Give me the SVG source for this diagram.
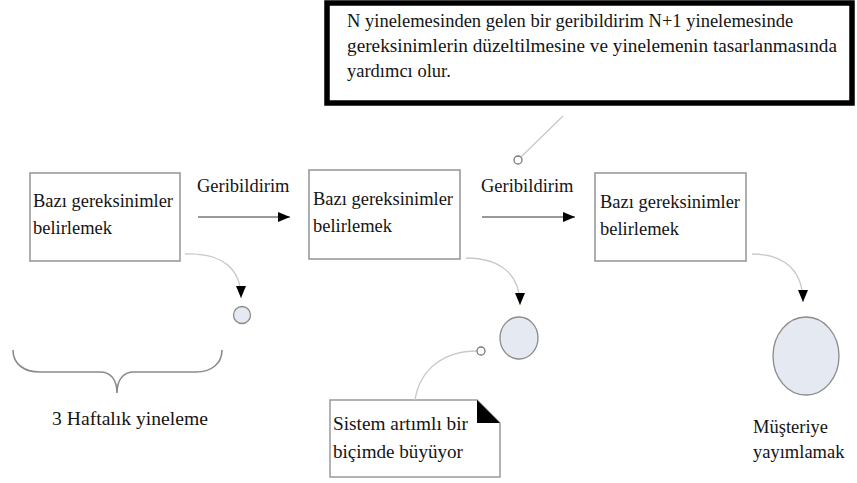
<svg xmlns="http://www.w3.org/2000/svg" width="857" height="483" viewBox="0 0 857 483">
<defs>
<style>
text{font-size:18.5px;fill:#141414}
.box{fill:#fff;stroke:#9a9a9a;stroke-width:1.6}
.circ{fill:#e5e9f1;stroke:#8a8a8a;stroke-width:1.3}
.thin{fill:none;stroke:#c9c9c9;stroke-width:1.3}
.dot{fill:#fff;stroke:#7a7a7a;stroke-width:1.3}
.arr{fill:none;stroke:#777;stroke-width:1.5}
</style>
<marker id="ah" markerUnits="userSpaceOnUse" markerWidth="12" markerHeight="10" refX="12" refY="5" orient="auto">
<path d="M0,0 L12,5 L0,10 Z" fill="#000"/>
</marker>
</defs>
<rect width="857" height="483" fill="#fff"/>

<g id="note-top">
<rect x="327" y="3" width="525" height="100" fill="#fff" stroke="#000" stroke-width="5.5"/>
<text font-family="Liberation Serif, serif" x="347" y="27">N yinelemesinden gelen bir geribildirim N+1 yinelemesinde</text>
<text font-family="Liberation Serif, serif" x="347" y="52" textLength="490" lengthAdjust="spacingAndGlyphs">gereksinimlerin düzeltilmesine ve yinelemenin tasarlanmasında</text>
<text font-family="Liberation Serif, serif" x="347" y="77">yardımcı olur.</text>
</g>

<g id="box1">
<rect class="box" x="30" y="173" width="150" height="88"/>
<text font-family="Liberation Serif, serif" x="33" y="207" textLength="140" lengthAdjust="spacingAndGlyphs">Bazı gereksinimler</text>
<text font-family="Liberation Serif, serif" x="33" y="234" textLength="79" lengthAdjust="spacingAndGlyphs">belirlemek</text>
</g>
<g id="box2">
<rect class="box" x="309" y="170" width="151" height="89"/>
<text font-family="Liberation Serif, serif" x="313" y="205" textLength="140" lengthAdjust="spacingAndGlyphs">Bazı gereksinimler</text>
<text font-family="Liberation Serif, serif" x="313" y="232" textLength="79" lengthAdjust="spacingAndGlyphs">belirlemek</text>
</g>
<g id="box3">
<rect class="box" x="595" y="173" width="151" height="88"/>
<text font-family="Liberation Serif, serif" x="600" y="208" textLength="140" lengthAdjust="spacingAndGlyphs">Bazı gereksinimler</text>
<text font-family="Liberation Serif, serif" x="600" y="235" textLength="79" lengthAdjust="spacingAndGlyphs">belirlemek</text>
</g>

<g id="circle1"><circle class="circ" cx="242" cy="315" r="8.5"/></g>
<g id="circle2"><ellipse class="circ" cx="519" cy="338" rx="19" ry="21"/></g>
<g id="circle3">
<ellipse class="circ" cx="806" cy="356" rx="33" ry="39"/>
<text font-family="Liberation Serif, serif" x="753" y="433">Müşteriye</text>
<text font-family="Liberation Serif, serif" x="753" y="458">yayımlamak</text>
</g>

<g id="note-bottom">
<path d="M330,400 L477,400 L500,423 L500,477 L330,477 Z" fill="#fff" stroke="#9a9a9a" stroke-width="1.5"/>
<path d="M477,400 L477,423 L500,423 Z" fill="#000"/>
<text font-family="Liberation Serif, serif" x="333" y="430" textLength="135" lengthAdjust="spacingAndGlyphs">Sistem artımlı bir</text>
<text font-family="Liberation Serif, serif" x="333" y="458" textLength="130" lengthAdjust="spacingAndGlyphs">biçimde büyüyor</text>
</g>

<g id="brace">
<path d="M13,350 C13,364 24,372 40,372 L100,372 C111,372 117,380 117,393 C117,380 123,372 134,372 L196,372 C211,372 222,364 222,350" fill="none" stroke="#8a8a8a" stroke-width="1.6"/>
<text font-family="Liberation Serif, serif" x="52" y="425" textLength="156" lengthAdjust="spacingAndGlyphs">3 Haftalık yineleme</text>
</g>

<g id="connectors">
<line class="arr" x1="198" y1="217" x2="290" y2="217" marker-end="url(#ah)"/>
<text font-family="Liberation Serif, serif" x="197" y="192">Geribildirim</text>
<line class="arr" x1="482" y1="217" x2="575" y2="217" marker-end="url(#ah)"/>
<text font-family="Liberation Serif, serif" x="481" y="192">Geribildirim</text>
<path class="thin" d="M185,254 C222,253 241,268 241,298" marker-end="url(#ah)"/>
<path class="thin" d="M466,258 C500,258 520,274 520,305" marker-end="url(#ah)"/>
<path class="thin" d="M752,254 C786,254 803,272 803,302" marker-end="url(#ah)"/>
<line class="thin" x1="521" y1="157" x2="563" y2="116"/>
<circle class="dot" cx="518" cy="160" r="4"/>
<path class="thin" d="M477,351 C445,351 420,368 415,400"/>
<circle class="dot" cx="481" cy="351" r="4"/>
</g>
</svg>
